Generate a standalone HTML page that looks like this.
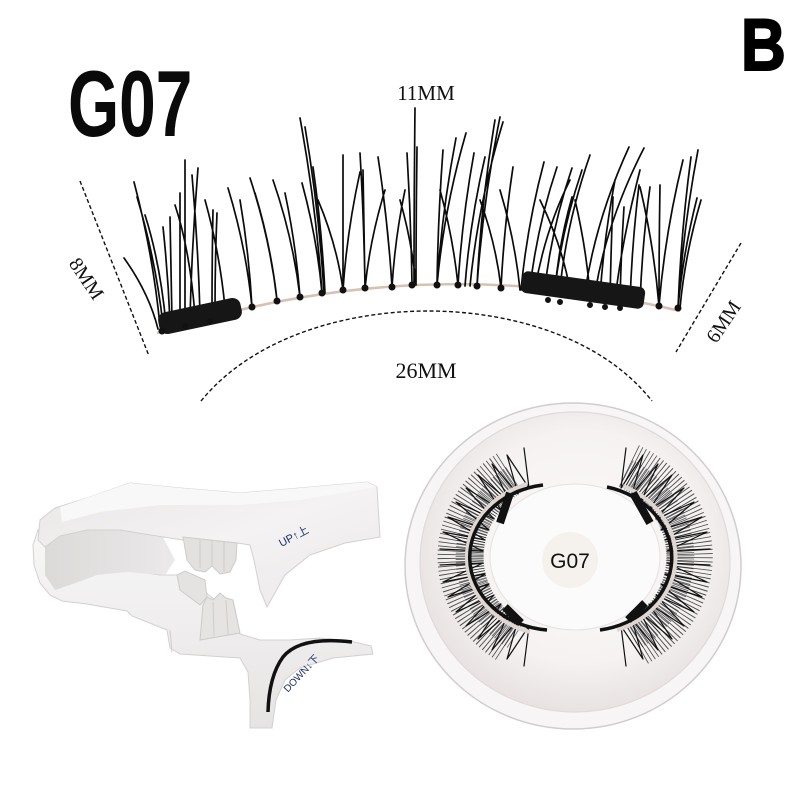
<!DOCTYPE html>
<html><head><meta charset="utf-8"><style>
html,body{margin:0;padding:0;background:#fff;}
svg{display:block;}
</style></head><body>
<svg width="800" height="800" viewBox="0 0 800 800" xmlns="http://www.w3.org/2000/svg">
<defs>
<linearGradient id="tw" x1="0" y1="0" x2="0" y2="1"><stop offset="0" stop-color="#f8f7f7"/><stop offset="1" stop-color="#e6e3e3"/></linearGradient>
<linearGradient id="tw2" x1="0" y1="0" x2="1" y2="1"><stop offset="0" stop-color="#e9e6e6"/><stop offset="0.5" stop-color="#f4f2f2"/><stop offset="1" stop-color="#ebe8e8"/></linearGradient>
<linearGradient id="tin" x1="0" y1="0" x2="1" y2="0"><stop offset="0" stop-color="#dcd9d9"/><stop offset="1" stop-color="#ebe9e9"/></linearGradient>
<radialGradient id="bowl" cx="0.52" cy="0.45" r="0.55"><stop offset="0" stop-color="#fbf9f9"/><stop offset="0.7" stop-color="#f6f2f2"/><stop offset="1" stop-color="#e8e2e2"/></radialGradient>
</defs>
<rect width="800" height="800" fill="#fff"/>

<g transform="translate(68,136) scale(0.7,1)"><text font-family="Liberation Sans, sans-serif" font-weight="bold" font-size="94" fill="#0a0a0a">G07</text></g>
<g transform="translate(741,70) scale(0.85,1)"><text font-family="Liberation Sans, sans-serif" font-weight="bold" font-size="73" fill="#000" stroke="#000" stroke-width="2">B</text></g>

<g font-family="Liberation Serif, serif" fill="#111" text-anchor="middle">
<text x="426" y="100" font-size="21">11MM</text>
<text x="426" y="378" font-size="22">26MM</text>
<text transform="translate(86,279) rotate(56)" dominant-baseline="central" font-size="20">8MM</text>
<text transform="translate(724,322) rotate(-56)" dominant-baseline="central" font-size="20">6MM</text>
</g>

<path d="M80,181 L149,356 M741,243 L676,352 M201,401 C255,335 350,311 428,311 C506,311 600,335 652,401" fill="none" stroke="#111" stroke-width="1.4" stroke-dasharray="4 2.5"/>

<path d="M157,333 Q420,248 680,311" fill="none" stroke="#d8c0b2" stroke-width="2.5"/>

<path fill="none" stroke="#0b0b0b" stroke-width="1.7" stroke-linecap="round" d="
M160,326Q153,254 134,182 M163,325Q156,261 137,197 M158,329Q149,293 124,258 M170,322Q168,274 163,227
M172,321Q171,269 170,217 M185,318Q185,239 185,160 M190,317Q192,242 198,168 M180,319Q180,256 180,193
M215,310Q215,261 217,213 M212,311Q212,260 213,210 M200,314Q198,244 192,175 M225,308Q220,254 205,200
M166,324Q160,262 145,215 M195,316Q190,250 175,205 M252,307Q246,247 228,188 M252,307Q249,253 240,200
M277,300Q270,239 250,178 M277,300Q271,246 255,193 M300,297Q293,238 273,180 M300,297Q296,245 285,193
M322,293Q316,205 300,118 M324,293Q319,210 305,127 M322,293Q317,238 302,183 M325,293Q322,230 313,167
M343,290Q343,222 343,155 M343,290Q347,231 360,172 M343,290Q337,245 318,200 M365,288Q364,220 360,153
M365,288Q364,229 363,170 M365,288Q370,239 385,190 M392,287Q388,222 378,157 M392,287Q395,238 405,190
M412,285Q411,219 407,153 M414,285Q414,196 415,108 M416,285Q416,216 417,147 M416,285Q412,242 400,200
M437,285Q442,211 456,138 M437,285Q438,217 443,150 M437,285Q444,209 466,133 M458,285Q462,219 474,153
M458,285Q453,237 440,190 M477,286Q483,201 500,117 M477,286Q481,203 495,120 M470,286Q478,204 503,122
M465,286Q470,221 485,157 M501,288Q504,227 513,167 M501,288Q496,244 480,200 M521,290Q527,226 544,162
M530,288Q537,227 557,167 M545,287Q552,227 572,168 M555,288Q562,229 582,170 M560,288Q567,221 590,155
M555,290Q559,243 572,197 M585,292Q596,219 629,147 M595,293Q607,220 644,148 M610,300Q611,248 613,197
M620,302Q621,254 624,207 M630,302Q632,243 639,185 M640,304Q642,245 650,187 M659,306Q659,245 660,185
M659,306Q654,246 640,187 M659,306Q665,233 683,160 M678,308Q683,229 698,150 M678,308Q681,232 691,157
M680,308Q685,254 701,200 M678,308Q683,253 697,198 M600,296Q604,238 615,180 M570,290Q562,245 540,200
M520,290Q515,240 500,190 M590,294Q586,247 575,200 M535,289Q545,230 570,180 M615,300Q622,240 640,170"/>

<rect x="-42" y="-11" width="84" height="22" rx="8" transform="translate(200,316) rotate(-12)" fill="#161616"/>
<rect x="-62" y="-11" width="124" height="22" rx="6" transform="translate(583,290) rotate(8)" fill="#161616"/>
<path fill="none" stroke="#111" stroke-width="7" stroke-linecap="round" d="M162,331h0M252,307h0M277,301h0M300,297h0M322,293h0M343,290h0M365,288h0M392,287h0M412,285h0M437,285h0M458,285h0M477,286h0M501,288h0M659,306h0M678,308h0"/>
<path fill="none" stroke="#111" stroke-width="6" stroke-linecap="round" d="M548,300h0M560,302h0M590,305h0M605,307h0M620,308h0M185,326h0M210,321h0"/>

<ellipse cx="573" cy="566" rx="168" ry="163" fill="#f7f5f5" stroke="#d2cdcd" stroke-width="1.5"/>
<ellipse cx="575" cy="562" rx="155" ry="150" fill="url(#bowl)" stroke="#e0dada" stroke-width="1.2"/>
<ellipse cx="575" cy="557" rx="85" ry="73" fill="#fcfbfb" stroke="#e6e1e1" stroke-width="1"/>
<g fill="none" stroke="#111">
<path d="M509,473 A115,103 0 0 0 509,641" stroke-width="46" stroke-dasharray="0.8 2.6" opacity="0.75"/>
<path d="M515,478 A108,97 0 0 0 515,636" stroke-width="28" stroke-dasharray="0.8 2" stroke-dashoffset="1.2" opacity="0.65"/>
<path d="M629,466 A115,103 0 0 1 636,644" stroke-width="46" stroke-dasharray="0.8 2.6" opacity="0.75"/>
<path d="M625,472 A108,97 0 0 1 631,638" stroke-width="28" stroke-dasharray="0.8 2" stroke-dashoffset="1.2" opacity="0.65"/>
</g>
<path fill="none" stroke="#111" stroke-width="1.2" stroke-linecap="round" d="
M529,626L507,659M529,626L524,666M518,620L492,650M518,620L507,659M509,613L478,639M509,613L492,650
M501,604L466,626M501,604L478,639M494,595L456,612M494,595L466,626M489,584L448,597M489,584L456,612
M485,574L443,582M485,574L448,597M483,563L440,565M483,563L443,582M483,551L440,549M483,551L443,532
M485,540L443,532M485,540L448,517M489,530L448,517M489,530L456,502M494,519L456,502M494,519L466,488
M501,510L466,488M501,510L478,475M509,501L478,475M509,501L492,464M518,494L492,464M518,494L507,455
M529,488L507,455M529,488L524,448
M621,626L643,659M621,626L626,666M632,620L658,650M632,620L643,659M641,613L672,639M641,613L658,650
M649,604L684,626M649,604L672,639M656,595L694,612M656,595L684,626M661,584L702,597M661,584L694,612
M665,574L707,582M665,574L702,597M667,563L710,565M667,563L707,582M667,551L710,549M667,551L707,532
M665,540L707,532M665,540L702,517M661,530L702,517M661,530L694,502M656,519L694,502M656,519L684,488
M649,510L684,488M649,510L672,475M641,501L672,475M641,501L658,464M632,494L658,464M632,494L643,455
M621,488L643,455M621,488L626,448"/>
<path d="M527,484 A90,78 0 0 0 530,632 M623,486 A90,78 0 0 1 617,630" fill="none" stroke="#ddd6d2" stroke-width="4"/>
<path d="M543,485 A85,73 0 0 0 547,630 M607,487 A85,73 0 0 1 600,630" fill="none" stroke="#111" stroke-width="3.5"/>
<path d="M510,493L500,523M505,607L521,623M633,493L650,523M645,603L628,620" stroke="#111" stroke-width="8"/>
<circle cx="570" cy="560" r="28" fill="#f5f1ed"/>
<text x="570" y="568" text-anchor="middle" font-family="Liberation Sans, sans-serif" font-size="21" fill="#111">G07</text>

<polygon points="38,530 33,545 34,565 40,583 50,595 62,601 87,604 127,611 132,616 167,630 170,648 180,654 240,658 248,672 250,700 250,728 272,728 276,700 285,680 300,668 333,658 373,654 371,646 350,641 320,638 290,640 260,640 240,634 228,622 215,600 200,588 177,575 160,575 127,570 97,567 70,566 52,557 45,547" fill="url(#tw)" stroke="#d4d0d0" stroke-width="1"/>
<polygon points="45,547 60,536 87,530 120,530 163,537 175,560 165,575 127,572 97,575 70,585 55,590 45,575" fill="url(#tin)"/>
<polygon points="40,520 55,508 90,497 130,483 180,488 240,493 300,488 367,482 377,487 380,537 345,543 310,555 285,575 267,607 260,590 254,560 250,545 237,543 215,546 190,541 163,537 120,530 87,530 60,536 45,547 38,540" fill="url(#tw2)" stroke="#d4d0d0" stroke-width="1"/>
<polygon points="60,507 130,483 180,488 240,493 300,488 367,482 377,487 300,500 240,505 160,505 100,512 62,522" fill="#f9f8f8"/>
<polygon points="183,537 237,543 236,560 230,572 220,574 212,566 205,572 195,570 187,560" fill="#e3e0e0" stroke="#cfcbcb" stroke-width="1"/>
<polygon points="177,575 185,571 205,580 207,597 200,605 180,590" fill="#e5e2e2" stroke="#cfcbcb" stroke-width="1"/>
<polygon points="200,640 203,605 207,597 213,600 220,593 226,598 233,600 240,633" fill="#e6e3e3" stroke="#cdc9c9" stroke-width="1"/>
<path d="M200,540V568M212,541V566M224,542V572M213,602L214,636M226,600L228,634M170,630L172,652" stroke="#d0cccc" stroke-width="1"/>
<path d="M352,642 Q300,636 283,657 Q269,676 268,712" fill="none" stroke="#111" stroke-width="3.5"/>
<g font-family="Liberation Sans, 'Noto Sans CJK SC', sans-serif" fill="#1d2f6b" text-anchor="middle" dominant-baseline="central">
<text transform="translate(294,537) rotate(-28)" font-size="11">UP↑上</text>
<text transform="translate(302,674) rotate(-47)" font-size="10">DOWN↓下</text>
</g>
</svg>
</body></html>
